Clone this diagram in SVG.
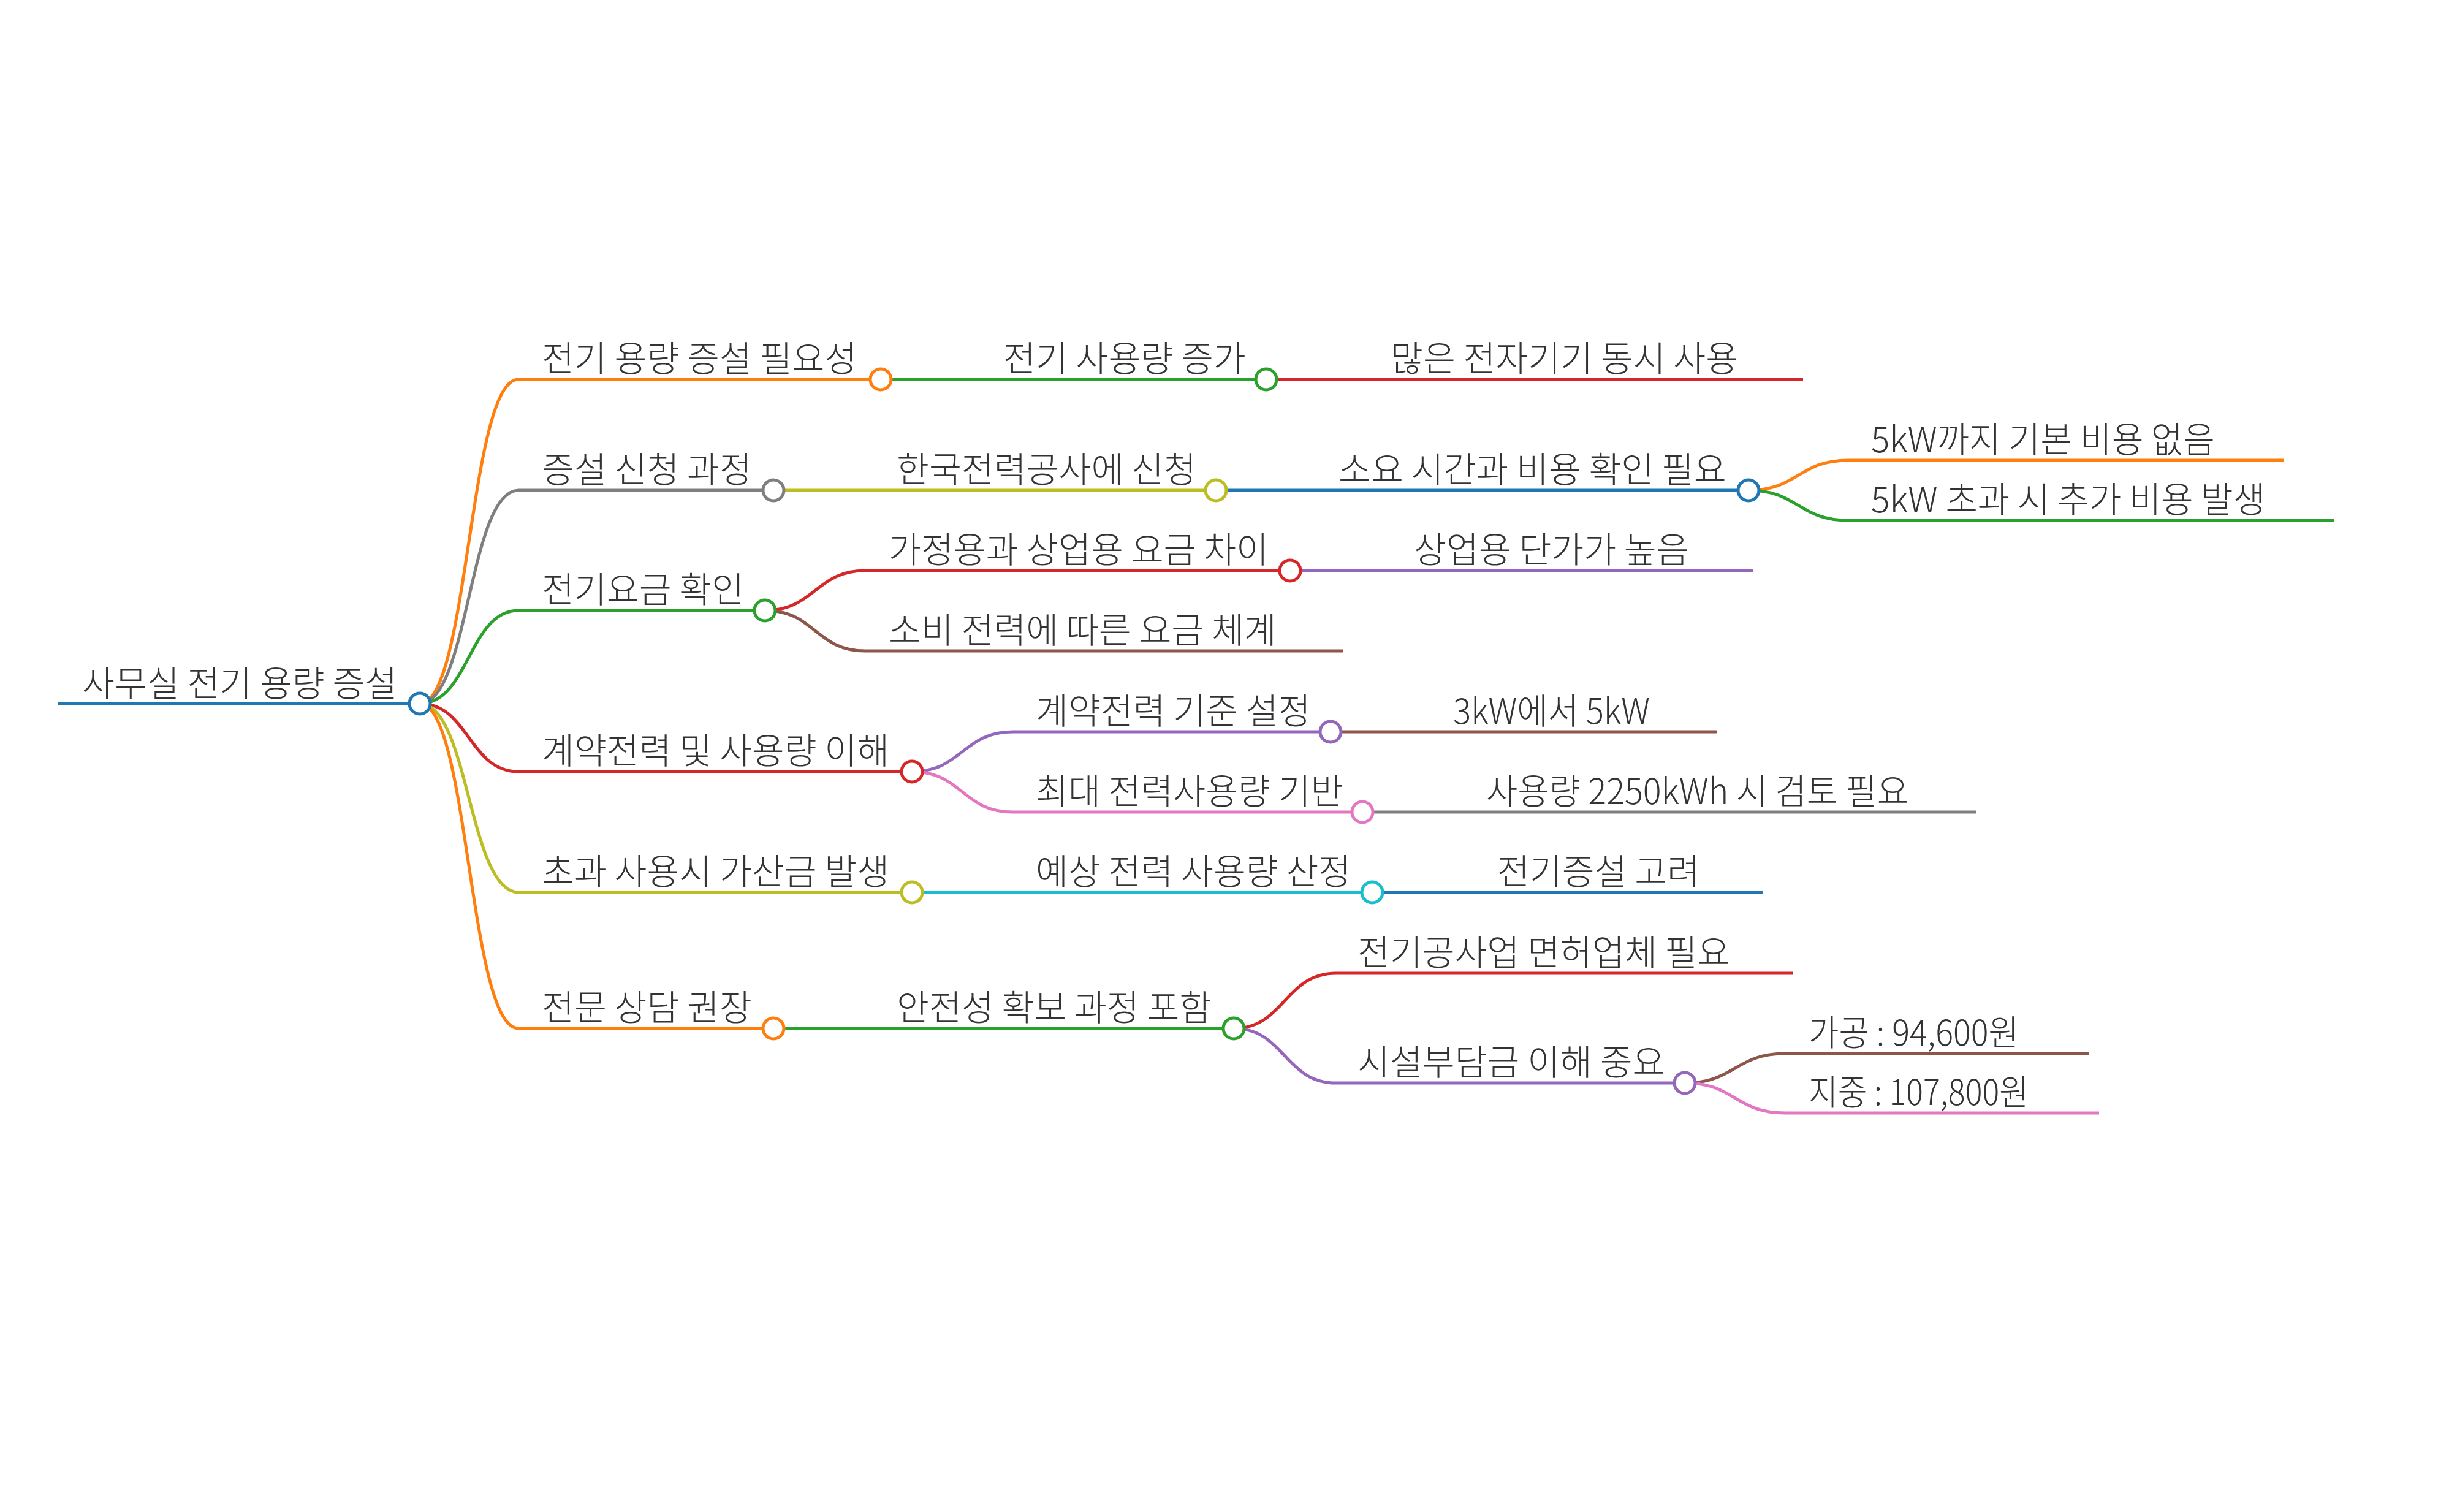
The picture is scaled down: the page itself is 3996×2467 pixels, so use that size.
<svg xmlns="http://www.w3.org/2000/svg" width="3996" height="2467" viewBox="0 0 3996 2467">
<style>
text{font-family:"Noto Sans CJK KR","Noto Sans",sans-serif;font-size:57.5px;font-weight:300;fill:#333}
.l{fill:none;stroke-width:5}
.n{fill:none;stroke-width:5}
circle{fill:#fff;stroke-width:5}
.blue{stroke:#1f77b4}.orange{stroke:#ff7f0e}.green{stroke:#2ca02c}.red{stroke:#d62728}.purple{stroke:#9467bd}.brown{stroke:#8c564b}.pink{stroke:#e377c2}.gray{stroke:#7f7f7f}.olive{stroke:#bcbd22}.cyan{stroke:#17becf}
</style>
<rect width="3996" height="2467" fill="#fff"/>
<g id="connectors">
<path class="l orange" d="M685 1148C765 1148 765 619 846 619"/>
<path class="l gray" d="M685 1148C765 1148 765 800 846 800"/>
<path class="l green" d="M685 1148C765 1148 765 996 846 996"/>
<path class="l red" d="M685 1148C765 1148 765 1259 846 1259"/>
<path class="l olive" d="M685 1148C765 1148 765 1456 846 1456"/>
<path class="l orange" d="M685 1148C765 1148 765 1678 846 1678"/>
<path class="l green" d="M1437 619H1598"/>
<path class="l red" d="M2066 619H2229"/>
<path class="l olive" d="M1262 800H1425"/>
<path class="l blue" d="M1984 800H2144"/>
<path class="l orange" d="M2853 800C2934 800 2934 751 3016 751"/>
<path class="l green" d="M2853 800C2934 800 2934 849 3016 849"/>
<path class="l red" d="M1248 996C1330 996 1330 931 1412 931"/>
<path class="l brown" d="M1248 996C1330 996 1330 1062 1412 1062"/>
<path class="l purple" d="M2105 931H2269"/>
<path class="l purple" d="M1488 1259C1570 1259 1570 1194 1653 1194"/>
<path class="l pink" d="M1488 1259C1570 1259 1570 1325 1653 1325"/>
<path class="l brown" d="M2171 1194H2333"/>
<path class="l gray" d="M2223 1325H2386"/>
<path class="l cyan" d="M1488 1456H1653"/>
<path class="l blue" d="M2239 1456H2404"/>
<path class="l green" d="M1262 1678H1425"/>
<path class="l red" d="M2013 1678C2096 1678 2096 1588 2180 1588"/>
<path class="l purple" d="M2013 1678C2096 1678 2096 1767 2180 1767"/>
<path class="l brown" d="M2749 1767C2831 1767 2831 1719 2913 1719"/>
<path class="l pink" d="M2749 1767C2831 1767 2831 1816 2913 1816"/>
</g>
<g id="root"><path class="n blue" d="M94 1148H685" stroke-width="6"/><text x="134" y="1136">사무실 전기 용량 증설</text><circle class="blue" cx="685" cy="1148" r="17"/></g>
<g id="a1"><path class="n orange" d="M846 619H1437"/><text x="884" y="606">전기 용량 증설 필요성</text><circle class="orange" cx="1437" cy="619" r="17"/></g>
<g id="a2"><path class="n green" d="M1598 619H2066"/><text x="1637" y="606">전기 사용량 증가</text><circle class="green" cx="2066" cy="619" r="17"/></g>
<g id="a3"><path class="n red" d="M2229 619H2942"/><text x="2269" y="606">많은 전자기기 동시 사용</text></g>
<g id="b1"><path class="n gray" d="M846 800H1262"/><text x="884" y="787">증설 신청 과정</text><circle class="gray" cx="1262" cy="800" r="17"/></g>
<g id="b2"><path class="n olive" d="M1425 800H1984"/><text x="1463" y="787">한국전력공사에 신청</text><circle class="olive" cx="1984" cy="800" r="17"/></g>
<g id="b3"><path class="n blue" d="M2144 800H2853"/><text x="2184" y="787">소요 시간과 비용 확인 필요</text><circle class="blue" cx="2853" cy="800" r="17"/></g>
<g id="b4"><path class="n orange" d="M3016 751H3726"/><text x="3053" y="738" textLength="561" lengthAdjust="spacingAndGlyphs">5kW까지 기본 비용 없음</text></g>
<g id="b5"><path class="n green" d="M3016 849H3809"/><text x="3053" y="836" textLength="643" lengthAdjust="spacingAndGlyphs">5kW 초과 시 추가 비용 발생</text></g>
<g id="c1"><path class="n green" d="M846 996H1248"/><text x="884" y="983">전기요금 확인</text><circle class="green" cx="1248" cy="996" r="17"/></g>
<g id="c2"><path class="n red" d="M1412 931H2105"/><text x="1450" y="918">가정용과 상업용 요금 차이</text><circle class="red" cx="2105" cy="931" r="17"/></g>
<g id="c3"><path class="n purple" d="M2269 931H2860"/><text x="2307" y="918">상업용 단가가 높음</text></g>
<g id="c4"><path class="n brown" d="M1412 1062H2191"/><text x="1450" y="1049">소비 전력에 따른 요금 체계</text></g>
<g id="d1"><path class="n red" d="M846 1259H1488"/><text x="884" y="1246">계약전력 및 사용량 이해</text><circle class="red" cx="1488" cy="1259" r="17"/></g>
<g id="d2"><path class="n purple" d="M1653 1194H2171"/><text x="1690" y="1181">계약전력 기준 설정</text><circle class="purple" cx="2171" cy="1194" r="17"/></g>
<g id="d3"><path class="n brown" d="M2333 1194H2801"/><text x="2371" y="1181" textLength="321" lengthAdjust="spacingAndGlyphs">3kW에서 5kW</text></g>
<g id="d4"><path class="n pink" d="M1653 1325H2223"/><text x="1690" y="1312">최대 전력사용량 기반</text><circle class="pink" cx="2223" cy="1325" r="17"/></g>
<g id="d5"><path class="n gray" d="M2386 1325H3224"/><text x="2425" y="1312" textLength="689" lengthAdjust="spacingAndGlyphs">사용량 2250kWh 시 검토 필요</text></g>
<g id="e1"><path class="n olive" d="M846 1456H1488"/><text x="884" y="1443">초과 사용시 가산금 발생</text><circle class="olive" cx="1488" cy="1456" r="17"/></g>
<g id="e2"><path class="n cyan" d="M1653 1456H2239"/><text x="1690" y="1443">예상 전력 사용량 산정</text><circle class="cyan" cx="2239" cy="1456" r="17"/></g>
<g id="e3"><path class="n blue" d="M2404 1456H2876"/><text x="2443" y="1443">전기증설 고려</text></g>
<g id="f1"><path class="n orange" d="M846 1678H1262"/><text x="884" y="1665">전문 상담 권장</text><circle class="orange" cx="1262" cy="1678" r="17"/></g>
<g id="f2"><path class="n green" d="M1425 1678H2013"/><text x="1463" y="1665">안전성 확보 과정 포함</text><circle class="green" cx="2013" cy="1678" r="17"/></g>
<g id="f3"><path class="n red" d="M2180 1588H2925"/><text x="2215" y="1575">전기공사업 면허업체 필요</text></g>
<g id="f4"><path class="n purple" d="M2180 1767H2749"/><text x="2215" y="1754">시설부담금 이해 중요</text><circle class="purple" cx="2749" cy="1767" r="17"/></g>
<g id="f5"><path class="n brown" d="M2913 1719H3409"/><text x="2951" y="1706" textLength="343" lengthAdjust="spacingAndGlyphs">가공 : 94,600원</text></g>
<g id="f6"><path class="n pink" d="M2913 1816H3425"/><text x="2951" y="1803" textLength="359" lengthAdjust="spacingAndGlyphs">지중 : 107,800원</text></g>
</svg>
